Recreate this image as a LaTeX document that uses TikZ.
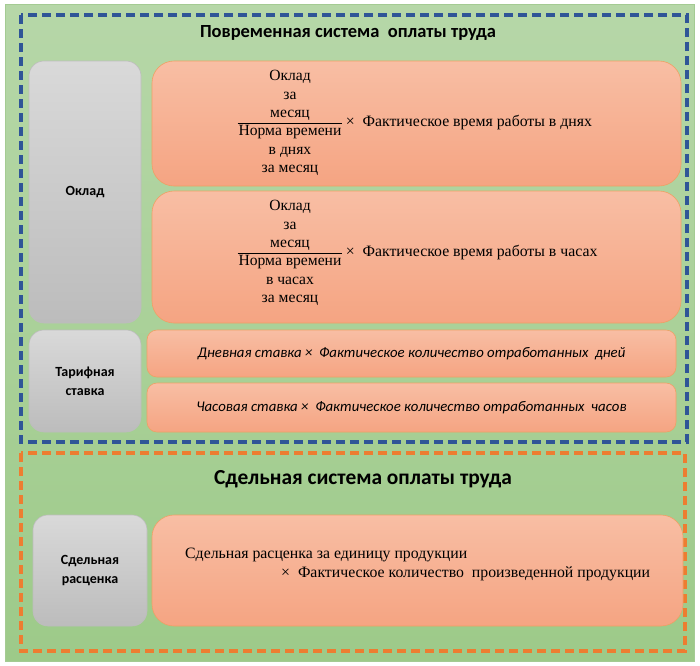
\documentclass[tikz,border=0pt]{standalone}
\usepackage{fontspec}
\setmainfont{Carlito}
\newfontfamily\srf{Liberation Serif}
\definecolor{gtop}{HTML}{D9D9D9}
\definecolor{gbot}{HTML}{BCBCBC}
\definecolor{gborder}{HTML}{BDBDBD}
\definecolor{otop}{HTML}{F8BEA4}
\definecolor{obot}{HTML}{F5A482}
\definecolor{oborder}{HTML}{EFA064}
\definecolor{bgtop}{HTML}{B6D7A8}
\definecolor{bgbot}{HTML}{9DCA89}
\definecolor{bgborder}{HTML}{A4CB93}
\definecolor{bluedash}{HTML}{2F5597}
\definecolor{orangedash}{HTML}{ED7D31}
\begin{document}
\begin{tikzpicture}[x=1pt,y=-1pt,
  gbox/.style={draw=gborder, line width=0.6pt, rounded corners=15pt, top color=gtop, bottom color=gbot, align=center, font=\bfseries\fontsize{14}{19}\selectfont},
  obox/.style={draw=oborder, line width=0.6pt, rounded corners=22pt, top color=otop, bottom color=obot},
  rowbox/.style={draw=oborder, line width=0.6pt, rounded corners=10pt, top color=otop, bottom color=obot, font=\itshape\fontsize{14.8}{17}\selectfont},
  frac/.style={font=\srf\fontsize{15.6}{18.2}\selectfont, inner sep=0pt},
  srftext/.style={font=\srf\fontsize{15.8}{18}\selectfont, inner sep=0pt, anchor=west},
  dashbox/.style={line width=3.2pt, dash pattern=on 9pt off 5pt},
  title/.style={font=\bfseries}
]
\useasboundingbox (0,0) rectangle (700,665);
\fill[white] (0,0) rectangle (700,665);
\draw[draw=bgborder, line width=1pt, top color=bgtop, bottom color=bgbot] (5,4) rectangle (694,661);

% Time-based system
\draw[dashbox, bluedash] (21,15) rectangle (687,442);
\node[title, font=\bfseries\fontsize{18.5}{22}\selectfont] (t1) at (348,33) {Повременная система\ \ оплаты труда};

\node[gbox, minimum width=112, minimum height=262] (okl) at (85,192) {Оклад};
\node[obox, minimum width=529, minimum height=125] (o1) at (416.5,123.5) {};
\node[obox, minimum width=529, minimum height=132] (o2) at (416.5,257) {};

\node[frac] (f1) at (290,123) {\setlength{\tabcolsep}{1pt}\begin{tabular}{c}Оклад\\за\\месяц\\\hline Норма времени\\в днях\\за месяц\end{tabular}};
\node[srftext, xshift=3pt] (x1) at (f1.east) {× \ Фактическое время работы в днях};

\node[frac] (f2) at (290,253) {\setlength{\tabcolsep}{1pt}\begin{tabular}{c}Оклад\\за\\месяц\\\hline Норма времени\\в часах\\за месяц\end{tabular}};
\node[srftext, xshift=3pt] (x2) at (f2.east) {× \ Фактическое время работы в часах};

\node[gbox, minimum width=112, minimum height=102] (tar) at (85,381) {Тарифная\\ставка};
\node[rowbox, minimum width=529, minimum height=47] (r1) at (411.5,353.5) {Дневная ставка × \ Фактическое количество отработанных \ дней};
\node[rowbox, minimum width=529, minimum height=49] (r2) at (411.5,407.5) {Часовая ставка × \ Фактическое количество отработанных \ часов};

% Piece-rate system
\draw[dashbox, orangedash] (21,453) rectangle (685,651);
\node[title, font=\bfseries\fontsize{21.4}{25}\selectfont] (t2) at (363,479) {Сдельная система оплаты труда};

\node[gbox, minimum width=114, minimum height=111] (sd) at (90,570.5) {Сдельная\\расценка};
\node[obox, minimum width=531, minimum height=111] (o3) at (417.5,570.5) {};
\node[font=\srf\fontsize{15.8}{18.5}\selectfont, inner sep=0pt, anchor=north west, align=left] (pt) at (185,548) {Сдельная расценка за единицу продукции\\\hspace*{96pt}× \ Фактическое количество \ произведенной продукции};
\end{tikzpicture}
\end{document}
